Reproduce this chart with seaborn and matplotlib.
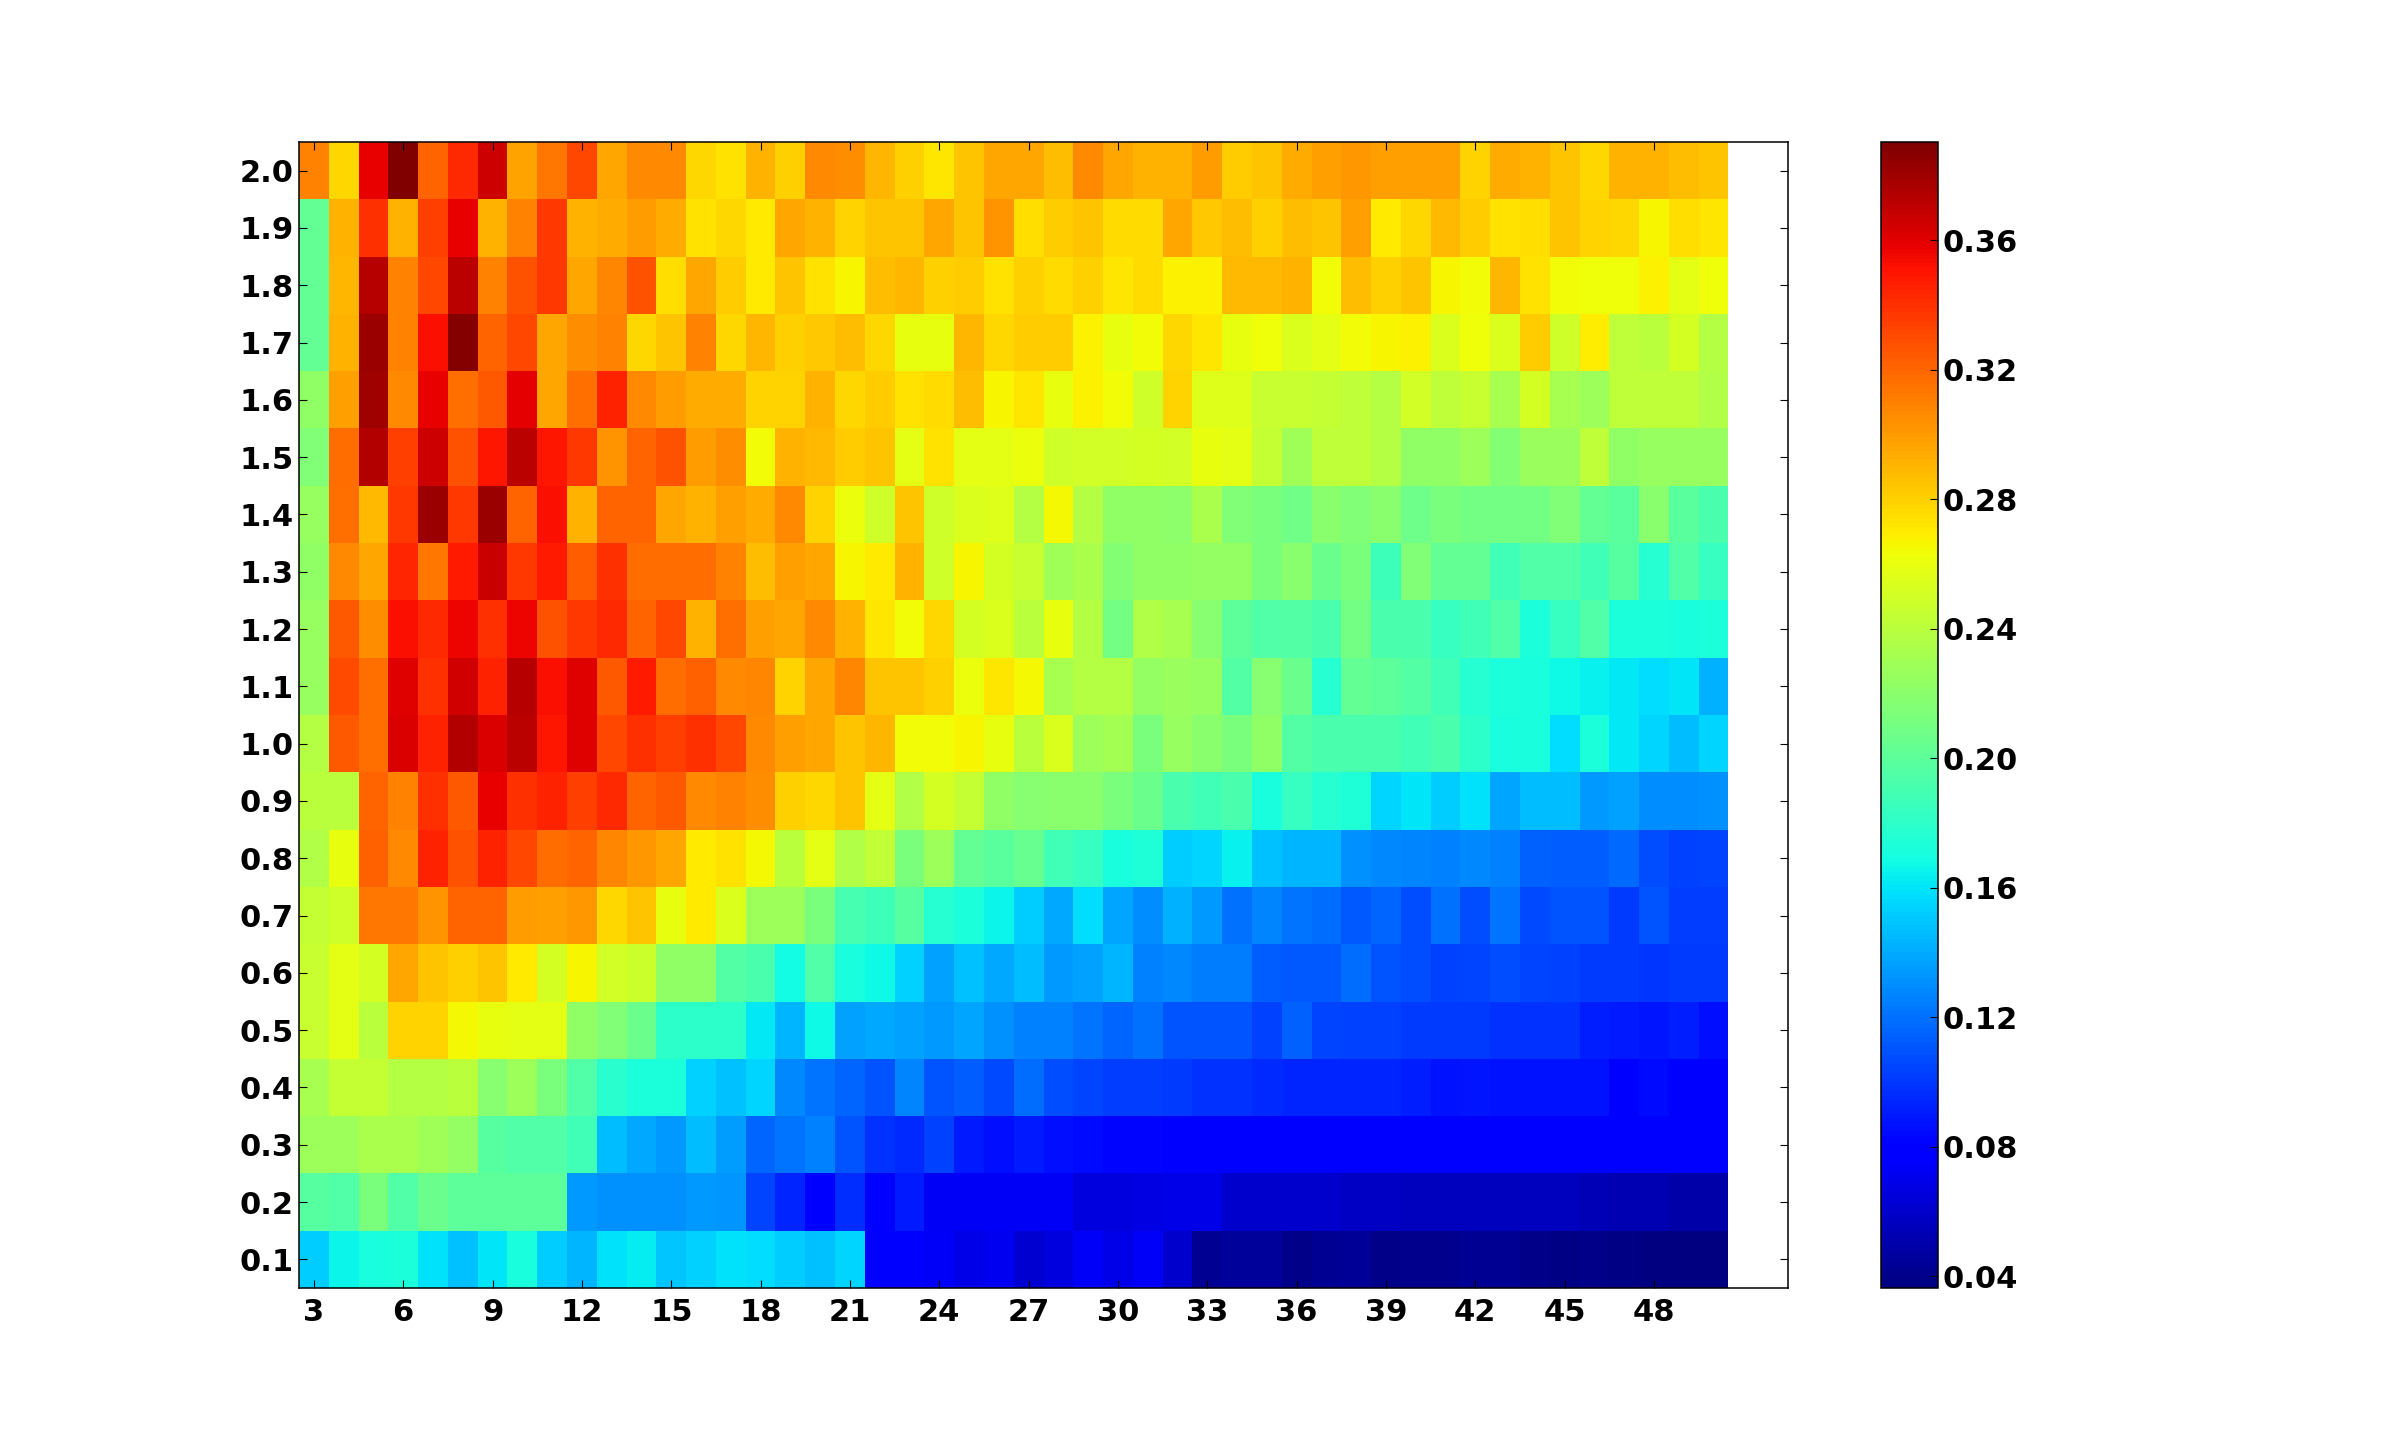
# heatmap of the score for each pair of parameters

import numpy as np
import pandas as pd
import matplotlib
matplotlib.use("Agg")
import matplotlib.pyplot as plt
import seaborn as sns

# columns and rows

col_values = list(range(3, 51))
row_labels = ["0.1", "0.2", "0.3", "0.4", "0.5", "0.6", "0.7", "0.8", "0.9", "1.0",
              "1.1", "1.2", "1.3", "1.4", "1.5", "1.6", "1.7", "1.8", "1.9", "2.0"]
x_tick_values = list(range(3, 49, 3))
cbar_ticks = [0.04, 0.08, 0.12, 0.16, 0.20, 0.24, 0.28, 0.32, 0.36]
color_min = 0.0363
color_max = 0.3903

row_01 = [.152, .165, .171, .173, .158, .148, .160, .171, .152, .144, .158, .163, .149, .153, .158, .157,
          .152, .147, .155, .076, .076, .074, .069, .072, .062, .066, .075, .069, .075, .060, .043, .045,
          .045, .040, .042, .044, .040, .041, .041, .043, .042, .040, .039, .040, .038, .037, .037, .037]
row_02 = [.198, .195, .212, .195, .206, .200, .200, .200, .200, .134, .131, .131, .131, .134, .132, .105,
          .093, .080, .096, .080, .089, .073, .073, .073, .073, .073, .066, .066, .068, .069, .069, .060,
          .060, .060, .060, .058, .058, .057, .057, .056, .056, .056, .056, .054, .052, .052, .050, .050]
row_03 = [.228, .228, .234, .234, .229, .224, .198, .195, .195, .188, .146, .139, .134, .146, .135, .116,
          .122, .125, .110, .098, .095, .103, .089, .086, .089, .086, .084, .083, .083, .078, .078, .077,
          .077, .077, .076, .076, .076, .076, .076, .076, .076, .076, .076, .076, .076, .076, .076, .076]
row_04 = [.232, .244, .244, .238, .238, .240, .218, .228, .212, .195, .178, .173, .173, .153, .147, .155,
          .128, .122, .116, .110, .127, .110, .113, .106, .118, .108, .105, .102, .102, .100, .098, .098,
          .095, .093, .093, .093, .093, .091, .087, .088, .087, .087, .087, .087, .078, .084, .079, .079]
row_05 = [.246, .258, .240, .279, .279, .265, .260, .258, .258, .222, .215, .206, .180, .180, .180, .161,
          .144, .167, .137, .139, .137, .134, .138, .131, .125, .125, .122, .116, .120, .110, .110, .110,
          .103, .115, .105, .104, .104, .101, .101, .101, .098, .098, .098, .091, .090, .088, .091, .085]
row_06 = [.246, .258, .252, .296, .284, .281, .285, .270, .251, .267, .250, .247, .222, .222, .196, .192,
          .168, .195, .171, .167, .153, .137, .148, .140, .146, .134, .137, .144, .125, .128, .124, .124,
          .113, .112, .112, .118, .110, .108, .104, .105, .108, .105, .104, .101, .100, .099, .100, .100]
row_07 = [.245, .248, .313, .313, .303, .320, .320, .300, .299, .301, .277, .285, .260, .270, .254, .228,
          .228, .212, .190, .187, .198, .177, .173, .165, .152, .140, .157, .138, .130, .142, .134, .120,
          .127, .122, .118, .112, .116, .108, .120, .108, .122, .106, .110, .110, .100, .110, .102, .102]
row_08 = [.236, .260, .322, .307, .346, .328, .346, .332, .318, .321, .308, .301, .296, .270, .273, .265,
          .240, .258, .236, .243, .213, .228, .203, .199, .204, .188, .184, .171, .174, .152, .154, .164,
          .148, .144, .144, .131, .128, .127, .125, .128, .125, .115, .113, .113, .117, .108, .104, .105]
row_09 = [.240, .240, .320, .310, .340, .325, .358, .340, .346, .334, .342, .320, .324, .306, .310, .305,
          .280, .277, .284, .258, .236, .252, .244, .222, .218, .220, .220, .213, .206, .192, .188, .192,
          .171, .184, .177, .174, .155, .160, .152, .158, .138, .146, .146, .134, .137, .129, .129, .131]
row_10 = [.238, .325, .316, .362, .346, .375, .362, .371, .350, .360, .332, .340, .334, .340, .332, .307,
          .299, .296, .285, .290, .264, .264, .267, .260, .240, .254, .228, .230, .212, .225, .219, .212,
          .222, .196, .192, .192, .192, .188, .192, .180, .171, .171, .157, .173, .161, .154, .146, .155]
row_11 = [.225, .330, .316, .360, .340, .365, .346, .373, .352, .360, .325, .348, .318, .322, .307, .308,
          .279, .296, .308, .284, .284, .280, .261, .272, .265, .232, .238, .237, .224, .226, .225, .196,
          .218, .206, .177, .203, .200, .196, .188, .177, .173, .171, .167, .164, .161, .157, .160, .142]
row_12 = [.225, .325, .305, .352, .343, .356, .340, .356, .327, .337, .342, .321, .332, .291, .316, .299,
          .296, .307, .291, .272, .264, .278, .252, .254, .240, .260, .238, .210, .236, .232, .218, .200,
          .194, .196, .192, .210, .192, .192, .184, .188, .195, .173, .183, .195, .173, .172, .171, .172]
row_13 = [.222, .307, .296, .344, .313, .348, .368, .337, .348, .323, .340, .318, .318, .318, .310, .287,
          .299, .296, .267, .270, .292, .248, .266, .252, .246, .229, .233, .217, .222, .222, .224, .224,
          .212, .219, .206, .213, .186, .215, .203, .203, .188, .195, .195, .188, .198, .177, .195, .184]
row_14 = [.225, .316, .288, .337, .382, .337, .382, .321, .352, .292, .321, .321, .296, .292, .299, .294,
          .307, .279, .261, .248, .284, .248, .254, .256, .238, .265, .238, .222, .222, .221, .233, .215,
          .212, .208, .220, .215, .220, .207, .213, .210, .210, .210, .215, .203, .199, .220, .199, .192]
row_15 = [.215, .318, .374, .334, .366, .327, .349, .371, .350, .337, .302, .321, .328, .300, .305, .264,
          .292, .288, .282, .284, .258, .274, .258, .258, .261, .248, .250, .250, .252, .250, .260, .258,
          .244, .229, .242, .242, .238, .222, .222, .228, .217, .226, .226, .242, .222, .225, .225, .225]
row_16 = [.222, .298, .380, .307, .358, .316, .325, .359, .296, .316, .346, .307, .300, .294, .294, .279,
          .279, .291, .278, .282, .273, .276, .287, .266, .272, .260, .268, .264, .248, .279, .256, .256,
          .246, .246, .244, .242, .238, .250, .242, .246, .232, .252, .232, .228, .242, .242, .242, .236]
row_17 = [.203, .291, .382, .310, .352, .388, .320, .331, .296, .305, .310, .277, .284, .310, .277, .290,
          .281, .283, .287, .277, .260, .260, .290, .277, .282, .282, .268, .260, .264, .277, .272, .260,
          .263, .254, .258, .264, .267, .268, .254, .263, .254, .282, .248, .269, .242, .240, .252, .238]
row_18 = [.203, .290, .373, .310, .331, .371, .310, .328, .337, .296, .308, .328, .275, .296, .282, .270,
          .284, .273, .266, .287, .290, .280, .282, .274, .280, .276, .281, .272, .276, .268, .268, .289,
          .289, .292, .264, .287, .280, .284, .266, .264, .290, .274, .264, .263, .263, .268, .258, .263]
row_19 = [.203, .291, .340, .291, .334, .358, .291, .310, .337, .291, .294, .300, .294, .274, .277, .270,
          .296, .291, .279, .285, .285, .296, .285, .302, .275, .282, .284, .276, .276, .296, .283, .287,
          .280, .287, .284, .299, .271, .277, .288, .282, .274, .275, .285, .279, .277, .266, .275, .272]
row_20 = [.310, .277, .358, .390, .320, .343, .366, .297, .313, .332, .295, .306, .306, .277, .274, .292,
          .280, .306, .305, .290, .280, .272, .285, .295, .295, .287, .306, .296, .292, .292, .300, .282,
          .285, .294, .298, .301, .299, .299, .299, .279, .294, .292, .285, .277, .291, .291, .287, .285]

scores = pd.DataFrame(
    [row_01, row_02, row_03, row_04, row_05, row_06, row_07, row_08, row_09, row_10,
     row_11, row_12, row_13, row_14, row_15, row_16, row_17, row_18, row_19, row_20],
    index=row_labels,
    columns=col_values,
)

plt.rcParams["font.family"] = "DejaVu Sans"
plt.rcParams["font.weight"] = "bold"

W, H = 2400, 1432
fig = plt.figure(figsize=(W / 100, H / 100), dpi=100)

# axes boxes in pixels of the reference
ax = fig.add_axes([299 / W, 1 - 1288 / H, (1788 - 299) / W, (1288 - 142) / H])
cax = fig.add_axes([1881 / W, 1 - 1288 / H, (1938 - 1881) / W, (1288 - 142) / H])

sns.heatmap(
    scores,
    ax=ax,
    cbar_ax=cax,
    cmap="jet",
    vmin=color_min,
    vmax=color_max,
    cbar_kws={"ticks": cbar_ticks, "format": "%.2f"},
)

# room left on the right of the last column, rows go upward
ax.set_xlim(0, 50)
ax.set_ylim(0, 20)
ax.set_xlabel("")
ax.set_ylabel("")

ax.set_xticks([v - col_values[0] + 0.5 for v in x_tick_values])
ax.set_xticklabels([str(v) for v in x_tick_values], rotation=0, fontsize=22, fontweight="bold")
ax.set_yticks(np.arange(len(row_labels)) + 0.5)
ax.set_yticklabels(row_labels, rotation=0, fontsize=22, fontweight="bold", va="center_baseline")
ax.tick_params(axis="x", direction="in", top=True, bottom=True, length=6, width=0.8, pad=7)
ax.tick_params(axis="y", direction="in", left=True, right=True, length=6, width=0.8, pad=4)

for spine in ax.spines.values():
    spine.set_visible(True)
    spine.set_color("black")
    spine.set_linewidth(1.1)

cbar = ax.collections[0].colorbar
cbar.outline.set_visible(True)
cbar.outline.set_edgecolor("black")
cbar.outline.set_linewidth(1.1)
cax.tick_params(direction="in", length=6, width=0.8, pad=3, labelsize=22, color="black")
for label in cax.get_yticklabels():
    label.set_fontweight("bold")
    label.set_verticalalignment("center_baseline")

fig.savefig("out.png", dpi=100, facecolor="white")
